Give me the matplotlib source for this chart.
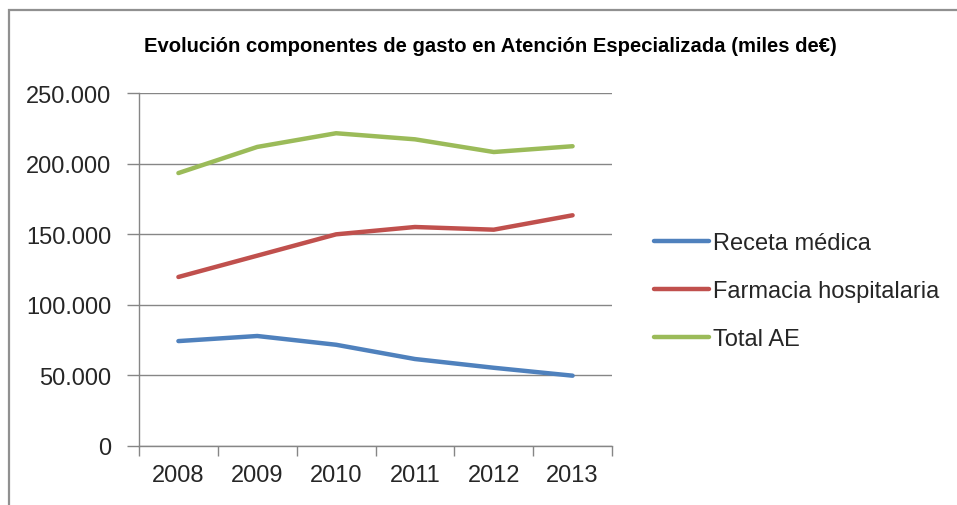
import matplotlib
matplotlib.use("Agg")
import matplotlib.pyplot as plt
from matplotlib.ticker import FuncFormatter, FixedLocator
from matplotlib.patches import Rectangle

years = ["2008", "2009", "2010", "2011", "2012", "2013"]
receta = [74300, 77900, 71700, 61600, 55400, 49800]
farmacia = [119700, 134800, 149900, 155100, 153200, 163400]
total = [193300, 211800, 221500, 217200, 208200, 212300]
series_names = ["Receta médica", "Farmacia hospitalaria", "Total AE"]
colors = ["#4F81BD", "#C0504D", "#9BBB59"]

plt.rcParams['font.family'] = ['Liberation Sans', 'DejaVu Sans']

fig = plt.figure(figsize=(9.57, 5.06), dpi=100)
W, H = 957, 506
ax = fig.add_axes([139/W, 1-447/H, (612-139)/W, (447-94)/H])

x = list(range(len(years)))
for vals, name, c in zip([receta, farmacia, total], series_names, colors):
    ax.plot(x, vals, color=c, lw=3.2, label=name, solid_capstyle='round')

ax.set_xlim(-0.5, len(years)-0.5)
ax.set_ylim(0, 250000)
ax.set_yticks(range(0, 250001, 50000))
ax.yaxis.set_major_formatter(FuncFormatter(lambda v, p: "0" if v == 0 else f"{int(v):,}".replace(",", ".")))
ax.grid(axis='y', color='#868686', lw=1)
ax.set_axisbelow(True)

ax.set_xticks(x)
ax.set_xticklabels(years)
ax.xaxis.set_minor_locator(FixedLocator([i - 0.5 for i in range(len(years)+1)]))
ax.tick_params(axis='x', which='major', length=0, labelsize=17, pad=13, colors='#262626')
ax.tick_params(axis='x', which='minor', length=7, width=1, color='#868686')
ax.tick_params(axis='y', length=9, width=1, color='#868686', labelsize=17, labelcolor='#262626', pad=11)

for s in ['top', 'right']:
    ax.spines[s].set_visible(False)
for s in ['left', 'bottom']:
    ax.spines[s].set_color('#868686')
    ax.spines[s].set_linewidth(1)

fig.text(490/W, 1-47/H, "Evolución componentes de gasto en Atención Especializada (miles de€)",
         ha='center', va='center', fontsize=14.6, fontweight='bold', color='#000000')

leg = fig.legend(loc='upper left', bbox_to_anchor=(645/W, 1-224/H), frameon=False,
                 fontsize=17, handlelength=2.3, handletextpad=0.2, labelspacing=1.1,
                 borderaxespad=0)
for t in leg.get_texts():
    t.set_color('#262626')

fig.patches.append(Rectangle((9/W, -0.1), 1.2, 1-11/H+0.1, transform=fig.transFigure,
                             fill=False, edgecolor='#909090', lw=1.6))

fig.savefig("out.png", dpi=100)
